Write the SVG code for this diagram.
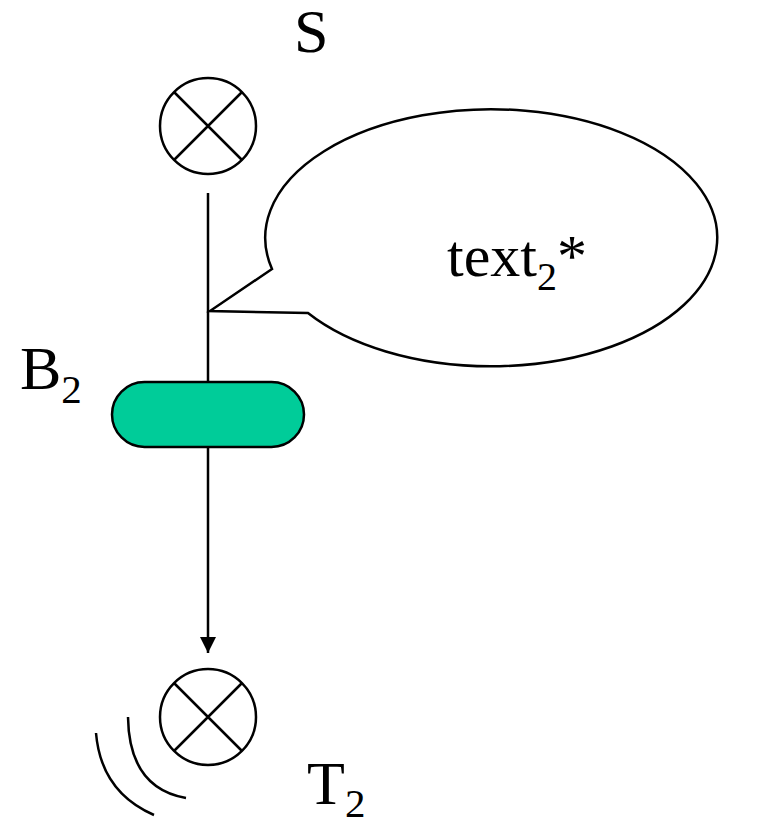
<svg xmlns="http://www.w3.org/2000/svg" width="775" height="823" viewBox="0 0 775 823">
<defs>
<style>
.ln{fill:none;stroke:#000;stroke-width:2.5}
.sym{fill:#fff;stroke:#000;stroke-width:2.5}
.lbl{font-family:"Liberation Serif","Times New Roman",serif;fill:#000}
</style>
<marker id="arr" viewBox="0 0 16 16" refX="16" refY="8" markerWidth="16" markerHeight="16" markerUnits="userSpaceOnUse" orient="auto">
<path d="M0,0 L16,8 L0,16 Z" fill="#000"/>
</marker>
</defs>
<rect width="775" height="823" fill="#fff"/>
<g id="connectors">
<line class="ln" x1="208" y1="193" x2="208" y2="382"/>
<line class="ln" x1="208" y1="447" x2="208" y2="653" marker-end="url(#arr)"/>
</g>
<g id="S">
<circle class="sym" cx="208" cy="126" r="48"/>
<path class="ln" d="M174,92 L242,160 M242,92 L174,160"/>
<text class="lbl" x="294" y="52" font-size="62">S</text>
</g>
<g id="callout">
<path class="ln" fill="#fff" d="M272,269 L210,311 L308,313 A226,128.5 0 1 0 272,269 Z"/>
<text class="lbl" x="447" y="276" font-size="60">text<tspan class="lbl" font-size="40" dy="14">2</tspan><tspan class="lbl" dy="-14">*</tspan></text>
</g>
<g id="B2">
<rect x="112" y="382" width="192" height="65" rx="32.5" fill="#00CC99" stroke="#000" stroke-width="2.5"/>
<text class="lbl" x="20" y="389" font-size="62">B<tspan class="lbl" font-size="41" dy="14">2</tspan></text>
</g>
<g id="T2">
<circle class="sym" cx="208" cy="717" r="48"/>
<path class="ln" d="M174,683 L242,751 M242,683 L174,751"/>
<path class="ln" d="M96,733 Q101,792 154,815"/>
<path class="ln" d="M128,717 Q129,788 186,798"/>
<text class="lbl" x="307" y="804" font-size="62">T<tspan class="lbl" font-size="41" dy="13">2</tspan></text>
</g>
</svg>
